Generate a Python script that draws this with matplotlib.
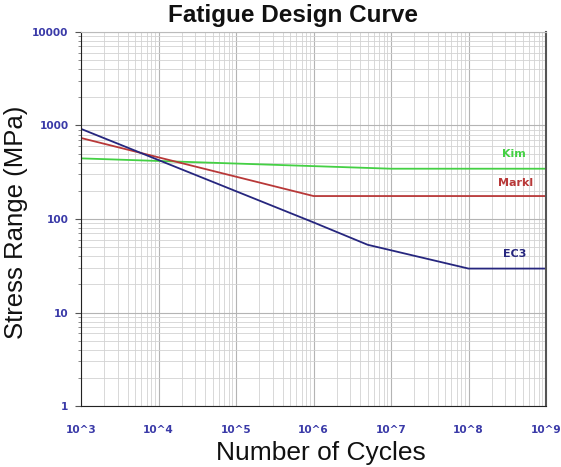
import matplotlib
matplotlib.use("Agg")
import matplotlib.pyplot as plt
from matplotlib.ticker import LogLocator, FixedLocator, NullFormatter

plt.rcParams['font.family'] = ['Liberation Sans', 'DejaVu Sans']

# S-N curves (cycles, stress range MPa)
ec3_n = [1e3, 1e6, 5e6, 1e8, 1e9]
ec3_s = [920, 92, 53, 29.5, 29.5]
markl_n = [1e3, 1e6, 1e9]
markl_s = [735, 176, 176]
kim_n = [1e3, 1e7, 1e9]
kim_s = [445, 345, 345]

x_ticks = [1e3, 1e4, 1e5, 1e6, 1e7, 1e8, 1e9]
x_labels = ['10^3', '10^4', '10^5', '10^6', '10^7', '10^8', '10^9']
y_ticks = [1, 10, 100, 1000, 10000]
y_labels = ['1', '10', '100', '1000', '10000']

fig = plt.figure(figsize=(5.61, 4.67), dpi=100)
ax = fig.add_axes([0.1444, 0.1306, 0.8289, 0.8009])

ax.plot(kim_n, kim_s, color='#44d044', lw=1.3)
ax.plot(markl_n, markl_s, color='#b83838', lw=1.3)
ax.plot(ec3_n, ec3_s, color='#26267e', lw=1.3)

# curve names, Verdana-like bold
lbl = dict(fontsize=8, fontweight='bold', ha='center', va='center', family='DejaVu Sans')
ax.text(3.9e8, 490, 'Kim', color='#44d044', **lbl)
ax.text(4.0e8, 240, 'Markl', color='#b83838', **lbl)
ax.text(4.0e8, 42, 'EC3', color='#26267e', **lbl)

ax.set_xscale('log')
ax.set_yscale('log')
ax.set_xlim(1e3, 1e9)
ax.set_ylim(1, 1e4)

ax.xaxis.set_major_locator(FixedLocator(x_ticks))
ax.set_xticklabels(x_labels)
ax.yaxis.set_major_locator(FixedLocator(y_ticks))
ax.set_yticklabels(y_labels)
ax.xaxis.set_minor_locator(LogLocator(base=10, subs=range(2, 10), numticks=20))
ax.yaxis.set_minor_locator(LogLocator(base=10, subs=range(2, 10), numticks=20))
ax.xaxis.set_minor_formatter(NullFormatter())
ax.yaxis.set_minor_formatter(NullFormatter())

ax.grid(which='major', color='#b4b4b4', lw=0.8)
ax.grid(which='minor', color='#d2d2d2', lw=0.6)
ax.set_axisbelow(True)

ax.tick_params(axis='both', which='major', labelsize=7.6, labelcolor='#3a3aa8', length=4, color='#555555')
ax.tick_params(axis='x', which='major', pad=14)
ax.tick_params(axis='y', which='major', pad=5)
ax.tick_params(axis='both', which='minor', length=2, color='#777777')
ax.tick_params(axis='x', which='both', length=0)
for lab in ax.get_xticklabels() + ax.get_yticklabels():
    lab.set_fontweight('bold')
    lab.set_family('DejaVu Sans')

ax.spines['top'].set_color('#bbbbbb')
ax.spines['right'].set_color('#555555')
ax.spines['right'].set_linewidth(1.5)
ax.spines['left'].set_color('#222222')
ax.spines['bottom'].set_color('#222222')

ax.set_title('Fatigue Design Curve', fontsize=17.5, fontweight='bold', color='#111111', pad=7)
ax.title.set_position((0.455, 1.0))
ax.set_xlabel('Number of Cycles', fontsize=19, color='#111111')
ax.set_ylabel('Stress Range (MPa)', fontsize=18.5, color='#111111')
ax.xaxis.label.set_va('bottom')
ax.xaxis.set_label_coords(0.516, -0.157)
ax.yaxis.set_label_coords(-0.114, 0.49)

fig.savefig('out.png', dpi=100)
